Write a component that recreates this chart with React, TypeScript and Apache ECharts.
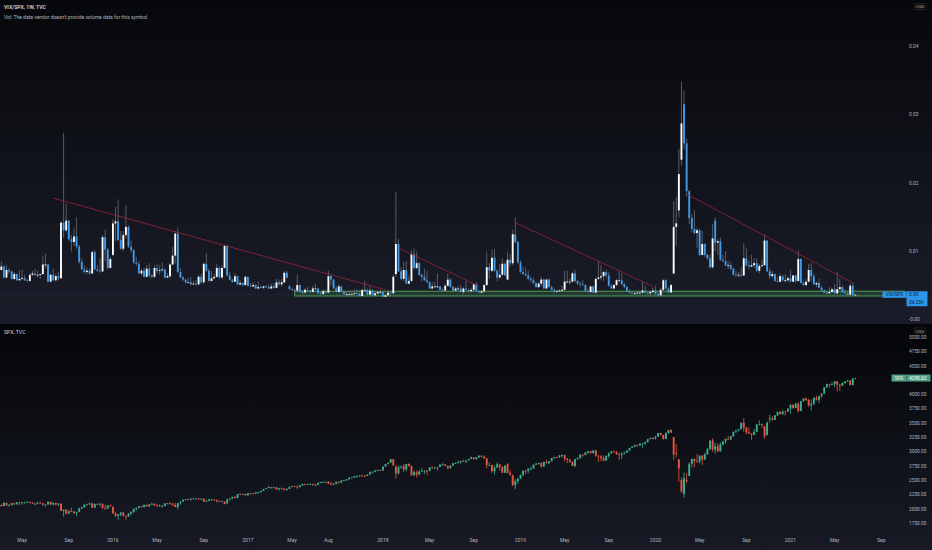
import React, { useEffect, useRef } from 'react';
import * as echarts from 'echarts';

// weekly bars, Monday dates; first bar is the week of 2015-03-09
const FIRST_WEEK = Date.UTC(2015, 2, 9);
const WEEKS = 349; // bars plus the empty weeks up to the price scale

// VIX/SPX, weekly, in units of 0.0001
const vixSpxOpen = [
  73, 78, 62, 73, 71, 60, 67, 58, 60, 61, 58, 57, 66, 68, 66, 66, 67, 81, 81, 56,
  66, 58, 64, 61, 142, 131, 145, 118, 114, 122, 107, 85, 74, 70, 72, 68, 99, 74, 72, 71,
  121, 103, 76, 95, 141, 144, 117, 104, 124, 136, 107, 102, 84, 82, 68, 72, 63, 75, 65, 63,
  76, 72, 73, 74, 62, 64, 81, 94, 126, 70, 62, 59, 55, 55, 52, 53, 52, 63, 55, 82,
  72, 57, 61, 63, 76, 62, 76, 108, 65, 59, 56, 64, 52, 54, 51, 63, 50, 49, 51, 46,
  48, 47, 49, 48, 46, 49, 47, 55, 52, 55, 69, 49, 45, 44, 43, 51, 41, 40, 44, 43,
  41, 46, 46, 39, 38, 42, 40, 64, 59, 46, 41, 49, 41, 38, 38, 38, 38, 39, 38, 35,
  44, 44, 37, 43, 36, 39, 41, 41, 34, 36, 40, 39, 67, 111, 71, 60, 73, 53, 57, 96,
  76, 83, 66, 63, 58, 55, 46, 49, 49, 49, 44, 43, 50, 59, 48, 43, 46, 46, 41, 46,
  44, 42, 44, 52, 42, 40, 42, 51, 77, 72, 91, 72, 62, 66, 82, 59, 88, 83, 125, 114,
  84, 70, 67, 65, 60, 58, 54, 48, 53, 59, 46, 59, 48, 44, 41, 42, 43, 44, 56, 56,
  56, 68, 57, 53, 52, 51, 42, 41, 49, 40, 60, 62, 64, 70, 65, 50, 46, 51, 58, 58,
  52, 48, 42, 40, 39, 39, 40, 40, 43, 40, 39, 41, 43, 38, 36, 44, 58, 46, 40, 68,
  136, 160, 234, 315, 258, 188, 149, 133, 127, 131, 95, 111, 95, 90, 77, 145, 113, 115, 88, 86,
  80, 80, 75, 66, 65, 66, 65, 90, 80, 78, 80, 83, 72, 79, 80, 116, 71, 64, 67, 57,
  56, 64, 58, 58, 61, 56, 65, 57, 89, 54, 51, 56, 73, 64, 52, 54, 47, 43, 40, 39,
  41, 45, 39, 45, 48, 40, 39, 37, 50, 36,
];
const vixSpxClose = [
  78, 62, 73, 71, 60, 67, 58, 60, 61, 58, 57, 66, 68, 66, 66, 67, 81, 81, 56, 66,
  58, 64, 61, 142, 131, 145, 118, 114, 122, 107, 85, 74, 70, 72, 68, 99, 74, 72, 71, 121,
  103, 76, 89, 141, 144, 117, 104, 124, 136, 107, 102, 84, 82, 68, 72, 63, 75, 65, 63, 76,
  72, 73, 74, 62, 64, 81, 94, 126, 70, 62, 59, 55, 55, 52, 53, 52, 63, 55, 82, 72,
  57, 61, 63, 76, 62, 76, 108, 65, 59, 56, 64, 52, 54, 51, 63, 50, 49, 51, 46, 48,
  47, 49, 48, 46, 49, 47, 55, 52, 55, 69, 62, 45, 44, 43, 51, 41, 40, 44, 43, 41,
  46, 46, 39, 38, 42, 40, 64, 59, 46, 41, 49, 41, 38, 38, 38, 38, 39, 38, 35, 44,
  44, 37, 43, 36, 39, 41, 41, 34, 36, 40, 39, 63, 111, 71, 60, 73, 53, 57, 96, 76,
  83, 66, 63, 58, 55, 46, 49, 49, 49, 44, 43, 50, 59, 48, 43, 46, 46, 41, 46, 44,
  42, 44, 52, 42, 40, 42, 51, 77, 72, 91, 72, 62, 66, 82, 65, 88, 83, 125, 114, 84,
  70, 67, 65, 60, 58, 54, 48, 53, 59, 46, 59, 48, 44, 41, 42, 43, 44, 56, 56, 56,
  68, 57, 53, 52, 51, 42, 41, 49, 40, 60, 62, 64, 70, 65, 50, 46, 51, 58, 58, 52,
  48, 42, 40, 39, 39, 40, 40, 43, 40, 39, 41, 43, 38, 36, 44, 58, 46, 40, 51, 136,
  141, 213, 287, 258, 188, 149, 133, 127, 131, 95, 111, 95, 90, 77, 119, 113, 115, 88, 86, 80,
  80, 75, 66, 65, 66, 65, 90, 80, 78, 80, 83, 72, 79, 80, 116, 71, 64, 67, 57, 56,
  64, 58, 58, 61, 56, 65, 57, 89, 54, 51, 56, 73, 64, 52, 54, 47, 43, 40, 39, 41,
  45, 39, 45, 48, 40, 39, 37, 50, 36, 37,
];
const vixSpxHigh = [
  86, 80, 80, 76, 72, 70, 68, 72, 74, 66, 60, 68, 72, 75, 72, 68, 93, 97, 82, 68,
  75, 68, 70, 145, 273, 170, 146, 124, 135, 150, 110, 90, 80, 77, 75, 102, 102, 80, 90, 124,
  132, 105, 92, 147, 165, 176, 130, 130, 168, 138, 116, 104, 92, 86, 75, 76, 80, 83, 67, 80,
  82, 80, 84, 75, 68, 83, 107, 130, 134, 76, 64, 60, 62, 63, 57, 58, 66, 67, 84, 98,
  75, 72, 67, 82, 78, 80, 110, 110, 70, 60, 68, 65, 58, 55, 65, 63, 54, 55, 52, 56,
  50, 50, 51, 52, 53, 54, 60, 59, 60, 71, 72, 51, 47, 46, 66, 52, 44, 47, 48, 44,
  50, 53, 47, 41, 45, 44, 72, 66, 60, 50, 53, 50, 43, 42, 41, 41, 45, 45, 43, 45,
  57, 46, 49, 45, 41, 42, 44, 41, 38, 44, 42, 66, 187, 118, 78, 85, 86, 65, 102, 104,
  100, 85, 68, 75, 72, 57, 55, 56, 68, 50, 47, 53, 68, 61, 50, 48, 50, 51, 48, 57,
  46, 47, 53, 55, 44, 44, 53, 100, 83, 103, 104, 74, 82, 90, 84, 100, 96, 132, 150, 116,
  87, 78, 76, 72, 64, 62, 55, 56, 63, 60, 60, 61, 50, 47, 45, 45, 50, 72, 72, 61,
  70, 73, 58, 56, 58, 52, 46, 50, 50, 62, 86, 80, 72, 74, 70, 52, 53, 60, 72, 68,
  55, 50, 45, 42, 42, 43, 41, 56, 50, 41, 42, 47, 50, 40, 47, 60, 60, 48, 53, 173,
  180, 250, 348, 335, 265, 190, 155, 160, 135, 133, 130, 112, 97, 95, 140, 150, 118, 120, 95, 100,
  86, 85, 76, 72, 70, 77, 112, 105, 87, 95, 90, 90, 82, 88, 125, 117, 75, 72, 68, 63,
  68, 66, 67, 64, 73, 66, 66, 102, 90, 57, 60, 82, 83, 68, 56, 60, 50, 45, 42, 48,
  47, 52, 70, 60, 50, 45, 41, 53, 55, 38,
];
const vixSpxLow = [
  72, 61, 62, 68, 59, 59, 57, 57, 59, 57, 55, 56, 64, 64, 62, 60, 66, 76, 55, 55,
  57, 56, 58, 60, 120, 128, 116, 100, 108, 104, 82, 73, 68, 67, 66, 67, 73, 70, 69, 70,
  86, 74, 75, 93, 115, 115, 102, 100, 120, 105, 98, 82, 79, 67, 65, 62, 62, 62, 60, 62,
  68, 66, 70, 61, 61, 61, 80, 82, 69, 61, 57, 53, 54, 51, 51, 50, 51, 53, 53, 70,
  56, 56, 59, 62, 61, 60, 75, 64, 58, 54, 55, 51, 50, 49, 50, 49, 48, 48, 45, 45,
  46, 45, 47, 45, 45, 46, 46, 50, 49, 54, 60, 44, 42, 40, 42, 40, 38, 39, 40, 39,
  40, 45, 38, 37, 36, 39, 39, 50, 45, 40, 40, 40, 37, 37, 35, 36, 36, 37, 35, 35,
  42, 36, 37, 36, 35, 36, 38, 33, 33, 35, 37, 38, 63, 70, 58, 57, 52, 52, 56, 74,
  74, 64, 56, 57, 54, 45, 45, 47, 46, 43, 41, 42, 49, 47, 42, 42, 41, 40, 38, 43,
  41, 40, 43, 41, 39, 39, 39, 50, 60, 70, 70, 57, 60, 65, 64, 58, 78, 80, 112, 82,
  68, 66, 64, 58, 55, 52, 47, 47, 50, 45, 45, 47, 43, 40, 40, 41, 42, 43, 54, 52,
  55, 55, 51, 48, 50, 41, 40, 40, 39, 39, 59, 58, 57, 62, 49, 45, 45, 49, 55, 51,
  46, 41, 39, 38, 37, 38, 37, 39, 38, 37, 35, 39, 37, 35, 35, 43, 44, 39, 39, 66,
  108, 150, 225, 250, 180, 140, 128, 125, 105, 93, 94, 92, 88, 75, 75, 100, 95, 86, 84, 78,
  74, 73, 65, 63, 62, 63, 64, 78, 74, 77, 76, 70, 68, 76, 79, 70, 60, 62, 56, 55,
  55, 56, 55, 55, 55, 55, 54, 56, 53, 50, 49, 55, 57, 51, 48, 46, 42, 39, 38, 38,
  40, 38, 38, 44, 39, 38, 36, 36, 35, 35,
];

// SPX, weekly
const spxOpen = [
  2071, 2053, 2108, 2061, 2067, 2102, 2081, 2117, 2108, 2116, 2123, 2126, 2107, 2092, 2094, 2110, 2101, 2077, 2077, 2127,
  2079, 2104, 2078, 2092, 1966, 1989, 1921, 1961, 1958, 1932, 1951, 2014, 2033, 2075, 2079, 2099, 2023, 2089, 2090, 2092,
  2012, 2005, 2061, 2038, 1922, 1880, 1907, 1940, 1880, 1865, 1918, 1948, 2000, 2022, 2050, 2036, 2073, 2048, 2081, 2092,
  2065, 2057, 2047, 2052, 2099, 2099, 2096, 2071, 2031, 2103, 2130, 2162, 2175, 2174, 2183, 2184, 2184, 2169, 2180, 2128,
  2139, 2165, 2168, 2153, 2133, 2141, 2126, 2100, 2164, 2182, 2213, 2192, 2260, 2258, 2263, 2239, 2277, 2274, 2271, 2295,
  2297, 2316, 2351, 2367, 2383, 2373, 2378, 2344, 2363, 2356, 2329, 2349, 2384, 2399, 2391, 2382, 2416, 2439, 2432, 2433,
  2438, 2423, 2425, 2459, 2472, 2472, 2477, 2441, 2426, 2443, 2477, 2461, 2500, 2502, 2519, 2549, 2553, 2575, 2581, 2587,
  2582, 2579, 2602, 2642, 2652, 2675, 2683, 2674, 2743, 2786, 2810, 2873, 2741, 2620, 2732, 2747, 2691, 2786, 2752, 2588,
  2641, 2604, 2656, 2670, 2670, 2663, 2728, 2713, 2721, 2735, 2779, 2780, 2755, 2718, 2760, 2801, 2802, 2819, 2840, 2833,
  2850, 2875, 2902, 2872, 2905, 2930, 2914, 2886, 2767, 2768, 2659, 2723, 2781, 2736, 2633, 2790, 2633, 2590, 2417, 2486,
  2532, 2596, 2671, 2665, 2707, 2708, 2776, 2793, 2804, 2743, 2822, 2801, 2834, 2893, 2907, 2905, 2940, 2946, 2881, 2860,
  2826, 2752, 2873, 2887, 2950, 2942, 2990, 3014, 2977, 3026, 2932, 2919, 2889, 2847, 2926, 2979, 3007, 2992, 2962, 2952,
  2970, 2986, 3023, 3067, 3093, 3120, 3110, 3141, 3146, 3169, 3221, 3240, 3235, 3265, 3330, 3295, 3226, 3328, 3380, 3257,
  2974, 2864, 2508, 2263, 2514, 2578, 2790, 2875, 2837, 2831, 2930, 2864, 2955, 3044, 3199, 3041, 3098, 3009, 3130, 3185,
  3225, 3216, 3271, 3351, 3373, 3397, 3508, 3427, 3341, 3319, 3298, 3348, 3477, 3484, 3441, 3296, 3583, 3585, 3558, 3638,
  3699, 3663, 3709, 3703, 3756, 3825, 3768, 3841, 3714, 3887, 3934, 3907, 3811, 3842, 3943, 3913, 3975, 4020, 4129, 4185,
  4180, 4181, 4233, 4174, 4156, 4204, 4230, 4247, 4166, 4281,
];
const spxClose = [
  2053, 2108, 2061, 2067, 2102, 2081, 2117, 2108, 2116, 2123, 2126, 2107, 2092, 2094, 2110, 2101, 2077, 2077, 2127, 2079,
  2104, 2078, 2092, 1971, 1989, 1921, 1961, 1958, 1932, 1951, 2014, 2033, 2075, 2079, 2099, 2023, 2089, 2090, 2092, 2012,
  2005, 2061, 2044, 1922, 1880, 1907, 1940, 1880, 1865, 1918, 1948, 2000, 2022, 2050, 2036, 2073, 2048, 2081, 2092, 2065,
  2057, 2047, 2052, 2099, 2099, 2096, 2071, 2037, 2103, 2130, 2162, 2175, 2174, 2183, 2184, 2184, 2169, 2180, 2128, 2139,
  2165, 2168, 2153, 2133, 2141, 2126, 2085, 2164, 2182, 2213, 2192, 2260, 2258, 2263, 2239, 2277, 2274, 2271, 2295, 2297,
  2316, 2351, 2367, 2383, 2373, 2378, 2344, 2363, 2356, 2329, 2349, 2384, 2399, 2391, 2382, 2416, 2439, 2432, 2433, 2438,
  2423, 2425, 2459, 2472, 2472, 2477, 2441, 2426, 2443, 2477, 2461, 2500, 2502, 2519, 2549, 2553, 2575, 2581, 2587, 2582,
  2579, 2602, 2642, 2652, 2675, 2683, 2674, 2743, 2786, 2810, 2873, 2762, 2620, 2732, 2747, 2691, 2786, 2752, 2588, 2641,
  2604, 2656, 2670, 2670, 2663, 2728, 2713, 2721, 2735, 2779, 2780, 2755, 2718, 2760, 2801, 2802, 2819, 2840, 2833, 2850,
  2875, 2902, 2872, 2905, 2930, 2914, 2886, 2767, 2768, 2659, 2723, 2781, 2736, 2633, 2760, 2633, 2600, 2417, 2486, 2532,
  2596, 2671, 2665, 2707, 2708, 2776, 2793, 2804, 2743, 2822, 2801, 2834, 2893, 2907, 2905, 2940, 2946, 2881, 2860, 2826,
  2752, 2873, 2887, 2950, 2942, 2990, 3014, 2977, 3026, 2932, 2919, 2889, 2847, 2926, 2979, 3007, 2992, 2962, 2952, 2970,
  2986, 3023, 3067, 3093, 3120, 3110, 3141, 3146, 3169, 3221, 3240, 3235, 3265, 3330, 3295, 3226, 3328, 3380, 3338, 2954,
  2972, 2711, 2305, 2541, 2489, 2790, 2875, 2837, 2831, 2930, 2864, 2955, 3044, 3194, 3041, 3098, 3009, 3130, 3185, 3225,
  3216, 3271, 3351, 3373, 3397, 3508, 3427, 3341, 3319, 3298, 3348, 3477, 3484, 3465, 3270, 3510, 3585, 3558, 3638, 3699,
  3663, 3709, 3703, 3756, 3825, 3768, 3841, 3714, 3887, 3934, 3907, 3811, 3842, 3943, 3913, 3975, 4020, 4129, 4185, 4180,
  4181, 4233, 4174, 4156, 4204, 4230, 4247, 4166, 4281, 4290.62,
];
const spxHigh = [
  2083, 2114, 2114, 2089, 2107, 2111, 2120, 2126, 2121, 2124, 2134, 2132, 2121, 2115, 2127, 2130, 2102, 2084, 2129, 2132,
  2114, 2112, 2105, 2102, 1989, 1992, 1976, 2021, 1968, 1952, 2020, 2039, 2080, 2094, 2116, 2101, 2097, 2095, 2104, 2093,
  2076, 2067, 2081, 2046, 1950, 1908, 1940, 1947, 1881, 1930, 1963, 2009, 2024, 2052, 2056, 2075, 2075, 2083, 2112, 2096,
  2084, 2084, 2071, 2101, 2106, 2120, 2098, 2114, 2104, 2131, 2170, 2176, 2178, 2184, 2194, 2188, 2187, 2184, 2187, 2164,
  2176, 2175, 2169, 2169, 2148, 2151, 2133, 2182, 2184, 2214, 2214, 2260, 2278, 2272, 2273, 2278, 2279, 2276, 2301, 2299,
  2319, 2352, 2367, 2401, 2386, 2391, 2382, 2370, 2378, 2361, 2362, 2398, 2400, 2404, 2406, 2419, 2441, 2446, 2441, 2454,
  2442, 2434, 2464, 2480, 2484, 2480, 2490, 2474, 2454, 2480, 2480, 2500, 2508, 2520, 2552, 2556, 2576, 2582, 2588, 2597,
  2594, 2605, 2658, 2652, 2680, 2695, 2692, 2743, 2787, 2811, 2873, 2873, 2763, 2754, 2747, 2790, 2787, 2802, 2761, 2674,
  2672, 2680, 2717, 2682, 2683, 2733, 2742, 2739, 2736, 2779, 2801, 2789, 2755, 2763, 2805, 2816, 2848, 2841, 2864, 2851,
  2877, 2916, 2903, 2908, 2941, 2940, 2940, 2889, 2816, 2776, 2756, 2815, 2786, 2747, 2760, 2800, 2685, 2601, 2520, 2539,
  2604, 2675, 2682, 2709, 2738, 2776, 2800, 2814, 2816, 2830, 2860, 2838, 2894, 2910, 2916, 2940, 2954, 2948, 2892, 2876,
  2830, 2876, 2905, 2964, 2958, 2996, 3014, 3017, 3028, 3027, 2943, 2943, 2939, 2940, 2985, 3020, 3022, 3016, 2983, 2993,
  3003, 3027, 3067, 3098, 3121, 3127, 3154, 3148, 3183, 3226, 3248, 3258, 3282, 3330, 3337, 3298, 3347, 3385, 3393, 3260,
  3137, 2883, 2553, 2641, 2632, 2818, 2879, 2880, 2965, 2945, 2945, 2981, 3068, 3211, 3233, 3156, 3155, 3166, 3189, 3238,
  3280, 3279, 3352, 3387, 3399, 3510, 3588, 3429, 3428, 3321, 3398, 3482, 3550, 3497, 3465, 3529, 3646, 3628, 3645, 3701,
  3712, 3726, 3712, 3760, 3827, 3827, 3859, 3871, 3889, 3938, 3950, 3929, 3914, 3960, 3983, 3978, 4020, 4130, 4192, 4194,
  4218, 4238, 4236, 4188, 4214, 4234, 4256, 4258, 4287, 4293,
];
const spxLow = [
  2040, 2049, 2057, 2045, 2062, 2079, 2080, 2067, 2074, 2093, 2118, 2098, 2086, 2073, 2079, 2099, 2056, 2044, 2077, 2077,
  2063, 2067, 2052, 1970, 1867, 1903, 1910, 1953, 1908, 1872, 1950, 1993, 2020, 2062, 2075, 2022, 2019, 2070, 2042, 2012,
  1993, 2005, 2043, 1918, 1857, 1812, 1872, 1872, 1810, 1863, 1891, 1931, 1969, 2011, 2023, 2022, 2039, 2039, 2073, 2053,
  2039, 2043, 2026, 2047, 2085, 2088, 2051, 2032, 1992, 2074, 2128, 2154, 2155, 2147, 2175, 2169, 2160, 2158, 2127, 2119,
  2139, 2145, 2142, 2114, 2126, 2119, 2084, 2086, 2151, 2179, 2188, 2187, 2249, 2254, 2233, 2233, 2254, 2258, 2263, 2268,
  2284, 2316, 2348, 2358, 2354, 2360, 2336, 2322, 2344, 2322, 2328, 2348, 2380, 2381, 2353, 2380, 2403, 2415, 2418, 2428,
  2405, 2407, 2416, 2452, 2459, 2466, 2437, 2418, 2417, 2428, 2446, 2459, 2488, 2488, 2518, 2543, 2546, 2544, 2566, 2566,
  2557, 2576, 2598, 2624, 2645, 2673, 2673, 2673, 2738, 2778, 2808, 2759, 2533, 2605, 2700, 2647, 2658, 2743, 2585, 2586,
  2553, 2586, 2654, 2612, 2594, 2660, 2701, 2707, 2676, 2735, 2754, 2750, 2691, 2699, 2758, 2790, 2800, 2793, 2826, 2802,
  2849, 2874, 2864, 2864, 2886, 2903, 2874, 2710, 2755, 2628, 2603, 2722, 2671, 2631, 2631, 2621, 2584, 2409, 2347, 2444,
  2524, 2570, 2612, 2631, 2682, 2704, 2768, 2775, 2722, 2741, 2800, 2785, 2834, 2873, 2890, 2896, 2900, 2836, 2801, 2805,
  2750, 2729, 2858, 2883, 2911, 2940, 2964, 2972, 2970, 2914, 2822, 2840, 2834, 2845, 2891, 2964, 2985, 2946, 2855, 2874,
  2952, 2984, 3022, 3066, 3079, 3091, 3110, 3070, 3123, 3167, 3220, 3213, 3215, 3263, 3281, 3214, 3222, 3315, 3328, 2855,
  2902, 2478, 2281, 2192, 2447, 2576, 2727, 2727, 2815, 2798, 2767, 2863, 2952, 3038, 2999, 2966, 3000, 3001, 3115, 3141,
  3200, 3209, 3268, 3328, 3354, 3395, 3350, 3310, 3314, 3209, 3296, 3346, 3465, 3415, 3234, 3279, 3511, 3543, 3556, 3622,
  3645, 3645, 3636, 3702, 3663, 3750, 3764, 3694, 3712, 3874, 3885, 3789, 3723, 3817, 3894, 3853, 3939, 4019, 4122, 4119,
  4165, 4128, 4057, 4062, 4154, 4183, 4220, 4165, 4165, 4271,
];

const ratioTicks = [0, 0.01, 0.02, 0.03, 0.04];
const spxTicks = [1750, 2000, 2250, 2500, 2750, 3000, 3250, 3500, 3750, 4000, 4500, 4750, 5000];
const timeTicks: [string, string][] = [
  ['2015-05', 'May'], ['2015-09', 'Sep'], ['2016-01', '2016'], ['2016-05', 'May'], ['2016-09', 'Sep'],
  ['2017-01', '2017'], ['2017-05', 'May'], ['2017-08', 'Aug'], ['2018-01', '2018'], ['2018-05', 'May'],
  ['2018-09', 'Sep'], ['2019-01', '2019'], ['2019-05', 'May'], ['2019-09', 'Sep'], ['2020-01', '2020'],
  ['2020-05', 'May'], ['2020-09', 'Sep'], ['2021-01', '2021'], ['2021-05', 'May'], ['2021-09', 'Sep'],
];

// drawings on the VIX/SPX pane: [from week, value, to week, value]
const trendLines: [string, number, string, number][] = [
  ['2015-07-27', 0.0178, '2018-01-08', 0.0044],
  ['2018-02-12', 0.0105, '2018-09-17', 0.00495],
  ['2018-12-24', 0.0142, '2019-12-30', 0.0049],
  ['2020-03-30', 0.0184, '2021-06-21', 0.0054],
];
const zoneStart = '2017-05-08';
const zoneTop = 0.0042;
const zoneBottom = 0.0035;

const FONT = 'Roboto, "Liberation Sans", sans-serif';
const AXIS_TEXT = '#b2b5be';

const candleRenderer = (upBody: string, downBody: string, upWick: string, downWick: string) =>
  (_params: any, api: any) => {
    const i = api.value(0);
    const o = api.value(1);
    const c = api.value(2);
    const pO = api.coord([i, o]);
    const pC = api.coord([i, c]);
    const pL = api.coord([i, api.value(3)]);
    const pH = api.coord([i, api.value(4)]);
    const w = api.size([1, 0])[0] * 0.72;
    const up = c >= o;
    const top = Math.min(pO[1], pC[1]);
    const h = Math.max(0.8, Math.abs(pO[1] - pC[1]));
    return {
      type: 'group',
      children: [
        { type: 'line', shape: { x1: pO[0], y1: pH[1], x2: pO[0], y2: pL[1] }, style: { stroke: up ? upWick : downWick, lineWidth: 0.8 } },
        { type: 'rect', shape: { x: pO[0] - w / 2, y: top, width: w, height: h }, style: { fill: up ? upBody : downBody } },
      ],
    };
  };

const App: React.FC = () => {
  const chartRef = useRef<HTMLDivElement>(null);

  useEffect(() => {
    document.body.style.margin = '0';
    if (!chartRef.current) return;
    const chart = echarts.init(chartRef.current, undefined, { renderer: 'svg' });

    const cats: string[] = [];
    for (let i = 0; i < WEEKS; i++) {
      cats.push(new Date(FIRST_WEEK + i * 7 * 86400000).toISOString().slice(0, 10));
    }
    const labelAt = new Map<number, string>();
    timeTicks.forEach(([ym, text]) => {
      const i = cats.findIndex((d) => d.startsWith(ym));
      if (i >= 0) labelAt.set(i, text);
    });

    const ratioData = vixSpxClose.map((c, i) => [i, vixSpxOpen[i] / 1e4, c / 1e4, vixSpxLow[i] / 1e4, vixSpxHigh[i] / 1e4]);
    const spxData = spxClose.map((c, i) => [i, spxOpen[i], c, spxLow[i], spxHigh[i]]);

    const hidden = { axisLine: { show: false }, axisTick: { show: false }, splitLine: { show: false } };

    const option: any = {
      animation: false,
      backgroundColor: '#0b0c10',
      textStyle: { fontFamily: FONT },
      grid: [
        { left: 0, right: 26, top: 0, height: 323, outerBoundsMode: 'none' },
        { left: 0, right: 26, top: 325, height: 205, outerBoundsMode: 'none' },
      ],
      xAxis: [
        { type: 'category', gridIndex: 0, data: cats, boundaryGap: true, ...hidden, axisLabel: { show: false } },
        {
          type: 'category', gridIndex: 1, data: cats, boundaryGap: true, ...hidden,
          axisLabel: {
            interval: (i: number) => labelAt.has(i),
            formatter: (_v: string, i: number) => labelAt.get(i) ?? '',
            color: AXIS_TEXT, fontSize: 5, margin: 7,
          },
        },
      ],
      yAxis: [
        {
          type: 'value', gridIndex: 0, position: 'right', min: -0.00044, max: 0.04672, ...hidden,
          axisLabel: {
            customValues: ratioTicks,
            formatter: (v: number) => (Math.abs(v) < 1e-9 ? '-0.00' : v.toFixed(2)),
            color: AXIS_TEXT, fontSize: 4.8, margin: 3,
          },
        },
        {
          type: 'value', gridIndex: 1, position: 'right', min: 1632.8, max: 5218.6, ...hidden,
          axisLabel: {
            customValues: spxTicks,
            formatter: (v: number) => v.toFixed(2),
            color: AXIS_TEXT, fontSize: 4.8, margin: 3,
          },
        },
      ],
      series: [
        {
          type: 'custom', name: 'VIX/SPX', xAxisIndex: 0, yAxisIndex: 0, data: ratioData,
          encode: { x: 0, y: [1, 2, 3, 4] }, clip: true, silent: true,
          renderItem: candleRenderer('#ffffff', '#3c9ceb', '#6a6d78', '#6a6d78'),
        },
        {
          type: 'custom', name: 'SPX', xAxisIndex: 1, yAxisIndex: 1, data: spxData,
          encode: { x: 0, y: [1, 2, 3, 4] }, clip: true, silent: true,
          renderItem: candleRenderer('#3fae8f', '#e8573f', '#3fae8f', '#e8573f'),
        },
        ...trendLines.map(([d1, v1, d2, v2], k) => ({
          type: 'line', xAxisIndex: 0, yAxisIndex: 0, z: 4, silent: true, symbol: 'none',
          data: [[d1, v1], [d2, v2]],
          lineStyle: { color: '#9a2538', width: 0.8 },
          ...(k === 0
            ? {
                markArea: {
                  silent: true,
                  label: { show: false },
                  itemStyle: { color: 'rgba(76,175,80,0.2)', borderColor: '#5aa95e', borderWidth: 0.9 },
                  data: [[{ xAxis: zoneStart, yAxis: zoneTop }, { xAxis: cats[WEEKS - 1], yAxis: zoneBottom }]],
                },
              }
            : {}),
        })),
      ],
    };

    chart.setOption(option);

    const lastRatio = vixSpxClose[vixSpxClose.length - 1] / 1e4;
    const lastSpx = spxClose[spxClose.length - 1];
    const yR = chart.convertToPixel({ yAxisIndex: 0 }, lastRatio) as unknown as number;
    const yS = chart.convertToPixel({ yAxisIndex: 1 }, lastSpx) as unknown as number;

    const grad = (a: string, b: string) => ({
      type: 'linear', x: 0, y: 0, x2: 0, y2: 1,
      colorStops: [{ offset: 0, color: a }, { offset: 1, color: b }],
    });
    const txt = (x: number, y: number, text: string, extra: any = {}) => ({
      type: 'text', x, y, z: 30, silent: true,
      style: { text, fontFamily: FONT, fontSize: 5, fill: AXIS_TEXT, verticalAlign: 'middle', align: 'left', ...extra },
    });
    const box = (x: number, y: number, w: number, h: number, fill: string) => ({
      type: 'rect', z: 29, silent: true, shape: { x, y, width: w, height: h }, style: { fill },
    });
    const usd = (y: number) =>
      txt(920, y, 'USD', { align: 'center', fontSize: 4.4, borderColor: '#2e323e', borderWidth: 0.6, borderRadius: 1, padding: [1, 1.5] });

    chart.setOption({
      graphic: [
        { type: 'rect', z: -10, silent: true, shape: { x: 0, y: 0, width: 932, height: 324 }, style: { fill: grad('#07080b', '#1a1d29') } },
        { type: 'rect', z: -10, silent: true, shape: { x: 0, y: 324, width: 932, height: 226 }, style: { fill: grad('#050608', '#171a25') } },
        txt(4, 7, 'VIX/SPX, 1W, TVC', { fill: '#d1d4dc', fontWeight: 600, fontSize: 5.2 }),
        txt(4, 16.5, "Vol: The data vendor doesn't provide volume data for this symbol.", { fill: '#b2b5be' }),
        txt(4, 331.5, 'SPX, TVC', { fill: '#d1d4dc', fontSize: 5.2 }),
        usd(6.5),
        usd(331),
        {
          type: 'line', z: 3, silent: true,
          shape: { x1: 0, y1: yR, x2: 906, y2: yR },
          style: { stroke: 'rgba(60,156,235,0.3)', lineWidth: 0.8, lineDash: [1, 2] },
        },
        box(882.5, yR - 3, 24, 6.2, '#2b95ec'),
        txt(894.5, yR + 0.1, 'VIX/SPX', { align: 'center', fontSize: 4.6, fill: '#0d1b2e' }),
        box(906.5, yR - 3.4, 21, 15, '#2b95ec'),
        txt(909, yR, lastRatio.toFixed(2), { fontSize: 4.8, fill: '#0d1b2e' }),
        txt(909, yR + 7.4, '3d 23h', { fontSize: 4.8, fill: '#0d1b2e' }),
        box(891.5, yS - 3.5, 15, 7, '#5a9e82'),
        txt(899, yS, 'SPX', { align: 'center', fontSize: 4.6, fill: '#e8f3ee' }),
        box(906.5, yS - 3.5, 24, 7, '#4e9e82'),
        txt(909, yS, lastSpx.toFixed(2), { fontSize: 4.8, fill: '#ffffff' }),
      ],
    });

    return () => {
      chart.dispose();
    };
  }, []);

  return <div ref={chartRef} style={{ width: 932, height: 550 }} />;
};

export default App;
